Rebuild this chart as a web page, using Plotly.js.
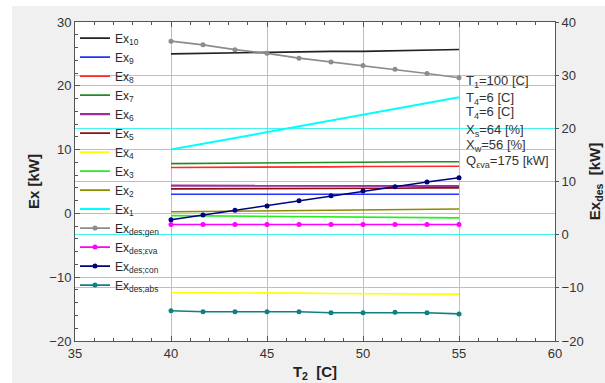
<!DOCTYPE html>
<html>
<head>
<meta charset="utf-8">
<script src="https://cdn.plot.ly/plotly-3.0.1.min.js"></script>
<style>
html,body{margin:0;padding:0;background:#ffffff;}
#chart{position:absolute;left:12px;top:6px;width:593px;height:377px;}
</style>
</head>
<body>
<div id="chart"></div>
<script>
// T2 [C]
var t2 = [40, 41.667, 43.333, 45, 46.667, 48.333, 50, 51.667, 53.333, 55];

// Left axis: Ex [kW]
var ex10 = [25.0, 25.1, 25.2, 25.2, 25.3, 25.4, 25.4, 25.5, 25.6, 25.7];
var ex9  = [3.0, 3.0, 3.0, 3.0, 3.0, 3.0, 3.0, 3.0, 3.0, 3.0];
var ex8  = [7.2, 7.2, 7.2, 7.25, 7.3, 7.3, 7.35, 7.4, 7.4, 7.4];
var ex7  = [7.8, 7.85, 7.9, 7.9, 7.95, 8.0, 8.0, 8.05, 8.1, 8.1];
var ex6  = [4.35, 4.35, 4.35, 4.3, 4.3, 4.3, 4.3, 4.3, 4.3, 4.3];
var ex5  = [3.85, 3.85, 3.9, 3.9, 3.9, 3.95, 3.95, 3.95, 4.0, 4.0];
var ex4  = [-12.4, -12.4, -12.45, -12.5, -12.5, -12.55, -12.55, -12.6, -12.65, -12.65];
var ex3  = [-0.35, -0.4, -0.4, -0.45, -0.5, -0.5, -0.55, -0.6, -0.65, -0.7];
var ex2  = [0.25, 0.3, 0.35, 0.4, 0.4, 0.45, 0.5, 0.55, 0.6, 0.7];
var ex1  = [10.0, 10.9, 11.8, 12.7, 13.6, 14.5, 15.4, 16.3, 17.2, 18.2];

// Right axis: Ex_des [kW]
var exDesGen = [36.4, 35.7, 34.8, 34.1, 33.2, 32.5, 31.8, 31.1, 30.3, 29.5];
var exDesEva = [1.9, 1.9, 1.9, 1.9, 1.9, 1.9, 1.9, 1.9, 1.9, 1.9];
var exDesCon = [2.8, 3.7, 4.6, 5.4, 6.4, 7.3, 8.2, 9.0, 9.9, 10.7];
var exDesAbs = [-14.3, -14.5, -14.5, -14.5, -14.5, -14.7, -14.7, -14.6, -14.7, -14.9];

var names = ['Ex<sub>10</sub>','Ex<sub>9</sub>','Ex<sub>8</sub>','Ex<sub>7</sub>','Ex<sub>6</sub>',
             'Ex<sub>5</sub>','Ex<sub>4</sub>','Ex<sub>3</sub>','Ex<sub>2</sub>','Ex<sub>1</sub>'];
var desNames = ['Ex<sub>des;gen</sub>','Ex<sub>des;εva</sub>','Ex<sub>des;con</sub>','Ex<sub>des;abs</sub>'];

var annText = ['T<sub>1</sub>=100 [C]','T<sub>4</sub>=6 [C]','T<sub>4</sub>=6 [C]',
               'X<sub>s</sub>=64 [%]','X<sub>w</sub>=56 [%]','Q<sub>εva</sub>=175 [kW]'];

var exSeries = [ex10, ex9, ex8, ex7, ex6, ex5, ex4, ex3, ex2, ex1];
var exColors = ['#222222','#2233ff','#ff2a2a','#228b22','#9b309b','#8b1010','#ffff00','#22ee22','#8b8b00','#00ffff'];
var exWidths = [1.6,1.6,1.6,1.6,2.2,1.6,1.6,1.6,1.6,2];

var desSeries = [exDesGen, exDesEva, exDesCon, exDesAbs];
var desColors = ['#8c8c8c','#ff00ff','#000080','#108080'];

var traces = [];
exSeries.forEach(function(s,i){
  traces.push({x:t2, y:s, name:names[i], type:'scatter', mode:'lines',
    line:{color:exColors[i], width:exWidths[i]}, xaxis:'x', yaxis:'y'});
});
desSeries.forEach(function(s,i){
  traces.push({x:t2, y:s, name:desNames[i], type:'scatter', mode:'lines+markers',
    line:{color:desColors[i], width:1.6}, marker:{color:desColors[i], size:5}, xaxis:'x', yaxis:'y2'});
});

var fontFam = 'Liberation Sans, Arial, sans-serif';
var gridC = '#45f2f2';
var axC = '#555555';
var annotations = [];
var annY = [0.813, 0.761, 0.716, 0.661, 0.612, 0.562];
annText.forEach(function(t,i){
  annotations.push({xref:'paper', yref:'paper', x:0.81, y:annY[i], xanchor:'left', yanchor:'middle',
    text:t, showarrow:false, font:{family:fontFam, size:13, color:'#333333'}});
});

var layout = {
  width:593, height:377,
  margin:{l:63, r:50, t:16, b:42},
  paper_bgcolor:'#f0f0f0', plot_bgcolor:'#ffffff',
  font:{family:fontFam, size:13, color:'#333333'},
  showlegend:true,
  legend:{x:0.0, y:0.995, xanchor:'left', yanchor:'top', bgcolor:'rgba(0,0,0,0)',
          font:{family:fontFam, size:12, color:'#2a2a2a'}, tracegroupgap:0, itemwidth:30},
  xaxis:{range:[35,60], dtick:5, showgrid:true, gridcolor:gridC, gridwidth:1,
         zeroline:false, showline:true, linecolor:axC, linewidth:1, mirror:'ticks',
         ticks:'inside', ticklen:5, tickcolor:axC,
         minor:{dtick:1, ticks:'inside', ticklen:3, tickcolor:axC, showgrid:false},
         tickfont:{size:13, color:'#333333'},
         title:{text:'<b>T<sub>2</sub>  [C]</b>', font:{size:15, color:'#222222'}, standoff:6}},
  yaxis:{range:[-20,30], dtick:10, showgrid:true, gridcolor:gridC, gridwidth:1,
         zeroline:false, showline:true, linecolor:axC, linewidth:1,
         ticks:'inside', ticklen:5, tickcolor:axC,
         minor:{dtick:2, ticks:'inside', ticklen:3, tickcolor:axC, showgrid:false},
         tickfont:{size:13, color:'#333333'},
         title:{text:'<b>Ex [kW]</b>', font:{size:15, color:'#222222'}, standoff:6}},
  yaxis2:{range:[-20,40], dtick:10, overlaying:'y', anchor:'x', side:'right', showgrid:true,
          gridcolor:gridC, gridwidth:1, zeroline:false, showline:true,
          linecolor:axC, linewidth:1, ticks:'outside', ticklen:3, tickcolor:axC,
          tickfont:{size:13, color:'#333333'},
          title:{text:'<b>Ex<sub>des</sub>  [kW]</b>', font:{size:15, color:'#222222'}, standoff:10}},
  annotations:annotations
};

Plotly.newPlot('chart', traces, layout, {displayModeBar:false, staticPlot:true});
</script>
</body>
</html>
